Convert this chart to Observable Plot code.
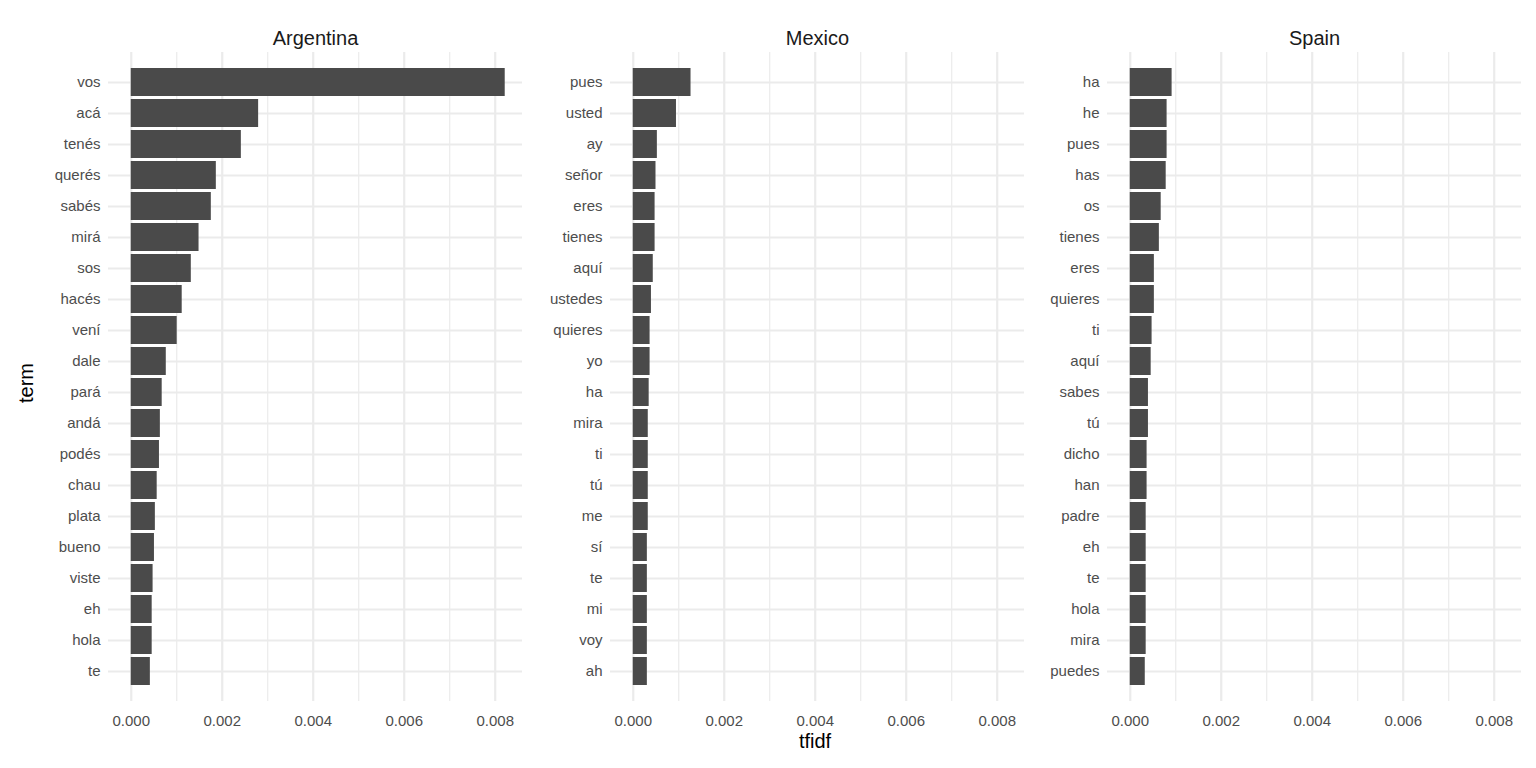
<!DOCTYPE html>
<html><head><meta charset="utf-8">
<script src="https://cdn.jsdelivr.net/npm/d3@7"></script>
<script src="https://cdn.jsdelivr.net/npm/@observablehq/plot@0.6"></script>
<style>
body{margin:0;background:#fff;font-family:"Liberation Sans",Arial,sans-serif}
#vis{position:relative;width:1536px;height:768px}
#vis svg{position:absolute;top:0}
.lab{position:absolute;font-size:20px;color:#000}
</style></head><body>
<div id="vis"></div>
<script>
const countries = ["Argentina", "Mexico", "Spain"]
const argTerms = ["vos","acá","tenés","querés","sabés","mirá","sos","hacés","vení","dale","pará","andá","podés","chau","plata","bueno","viste","eh","hola","te"]
const argValues = [0.00822,0.0028,0.00242,0.00187,0.00176,0.00149,0.00132,0.00112,0.00101,0.00077,0.00068,0.00064,0.00062,0.00057,0.00053,0.00051,0.00048,0.00046,0.00046,0.00042]
const mexTerms = ["pues","usted","ay","señor","eres","tienes","aquí","ustedes","quieres","yo","ha","mira","ti","tú","me","sí","te","mi","voy","ah"]
const mexValues = [0.00127,0.00095,0.00053,0.0005,0.00048,0.00048,0.00044,0.0004,0.00037,0.00037,0.00035,0.00033,0.00033,0.00033,0.00033,0.00031,0.00031,0.00031,0.00031,0.00031]
const espTerms = ["ha","he","pues","has","os","tienes","eres","quieres","ti","aquí","sabes","tú","dicho","han","padre","eh","te","hola","mira","puedes"]
const espValues = [0.00092,0.00081,0.00081,0.00079,0.00068,0.00064,0.00053,0.00053,0.00048,0.00046,0.0004,0.0004,0.00037,0.00037,0.00035,0.00035,0.00035,0.00035,0.00035,0.00033]
const xTicks = [0, 0.002, 0.004, 0.006, 0.008]
const xMinor = [0.001, 0.003, 0.005, 0.007]

const panels = [
  {terms: argTerms, values: argValues, left: 0, marginLeft: 108, width: 522},
  {terms: mexTerms, values: mexValues, left: 522, marginLeft: 88, width: 502},
  {terms: espTerms, values: espValues, left: 1024, marginLeft: 83, width: 512}
]

panels.forEach((p, i) => {
  const data = p.terms.map((t, j) => ({term: t, tfidf: p.values[j]}))
  const chart = Plot.plot({
    width: p.width,
    height: 768,
    marginLeft: p.marginLeft,
    marginRight: p.width - p.marginLeft - 414,
    marginTop: 52,
    marginBottom: 67,
    x: {domain: [-0.0005, 0.0086], ticks: xTicks, tickFormat: d3.format(".3f"), label: null},
    y: {domain: p.terms, paddingInner: 0.1, paddingOuter: 0.3, label: null},
    style: {fontFamily: "Liberation Sans, Arial, sans-serif", fontSize: "15px", color: "#4d4d4d", background: "transparent"},
    marks: [
      Plot.ruleX(xMinor, {stroke: "#ebebeb", strokeWidth: 1.2}),
      Plot.ruleX(xTicks, {stroke: "#ebebeb", strokeWidth: 2.2}),
      Plot.gridY({stroke: "#ebebeb", strokeOpacity: 1, strokeWidth: 2.2}),
      Plot.barX(data, {x: "tfidf", y: "term", fill: "#4a4a4a"}),
      Plot.axisX({ticks: xTicks, tickSize: 0, tickPadding: 14, tickFormat: d3.format(".3f"), fontSize: 15, fill: "#4d4d4d", label: null}),
      Plot.axisY({tickSize: 0, tickPadding: 8, fontSize: 15, fill: "#4d4d4d", label: null}),
      Plot.text([countries[i]], {frameAnchor: "top", dy: -22, fontSize: 20, fill: "#1a1a1a"})
    ]
  })
  chart.style.left = p.left + "px"
  document.getElementById("vis").append(chart)
})
const vis = document.getElementById("vis")
vis.insertAdjacentHTML("beforeend",
  '<div class="lab" style="left:815px;top:730px;transform:translateX(-50%)">tfidf</div>' +
  '<div class="lab" style="left:26px;top:383px;transform:translate(-50%,-50%) rotate(-90deg)">term</div>')
</script>
</body></html>
